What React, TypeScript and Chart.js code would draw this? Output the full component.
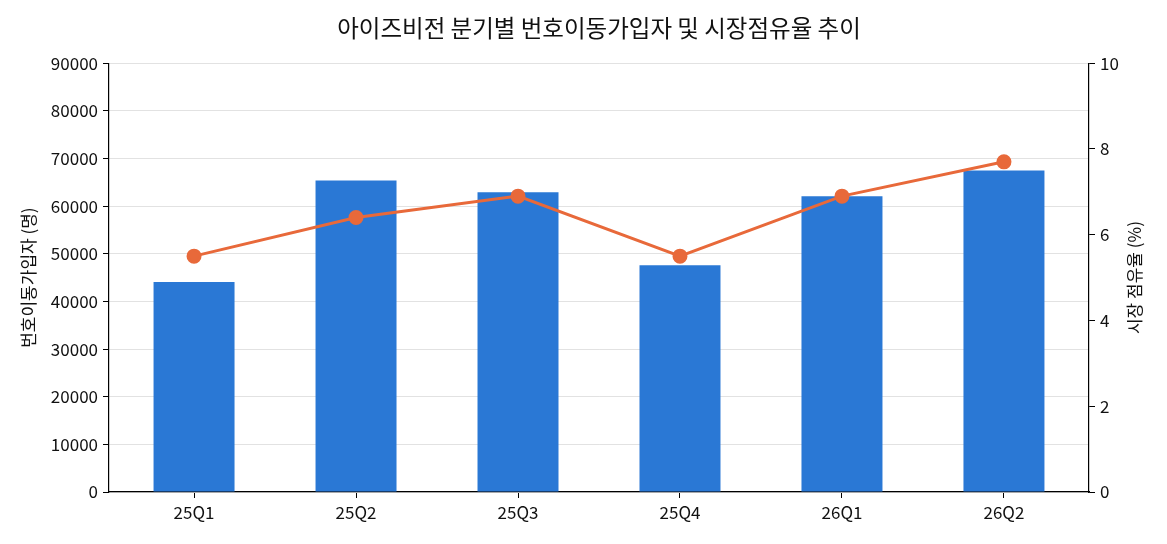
import React, { useEffect, useRef } from "react";
import { Chart, registerables } from "chart.js";

Chart.register(...registerables);

const quarters = ["25Q1", "25Q2", "25Q3", "25Q4", "26Q1", "26Q2"];
const subscribers = [44100, 65400, 62900, 47600, 62100, 67500];
const marketShare = [5.5, 6.4, 6.9, 5.5, 6.9, 7.7];

const FONT = "'Noto Sans CJK KR', 'Noto Sans', sans-serif";
const rightTitle = "시장 점유율 (%)";

// Draws the right-hand axis title reading bottom-to-top.
const rightTitlePlugin = {
  id: "rightTitle",
  afterDraw(chart: any) {
    const { ctx, chartArea } = chart;
    const cy = (chartArea.top + chartArea.bottom) / 2;
    ctx.save();
    ctx.translate(1135, cy);
    ctx.rotate(-Math.PI / 2);
    ctx.fillStyle = "#111";
    ctx.font = `17px ${FONT}`;
    ctx.textAlign = "center";
    ctx.textBaseline = "middle";
    ctx.fillText(rightTitle, 0, 0);
    ctx.restore();
  },
};

export default function App() {
  const canvasRef = useRef<HTMLCanvasElement | null>(null);

  useEffect(() => {
    const ctx = canvasRef.current;
    if (!ctx) return;
    const barPoints = subscribers.map((y, i) => ({ x: i, y }));
    const linePoints = marketShare.map((y, i) => ({ x: i, y }));
    const chart = new Chart(ctx, {
      type: "bar",
      data: {
        datasets: [
          {
            type: "line",
            label: rightTitle,
            data: linePoints,
            yAxisID: "y1",
            borderColor: "#e8693a",
            backgroundColor: "#e8693a",
            borderWidth: 3,
            pointRadius: 6,
            pointHoverRadius: 6,
            tension: 0,
            order: 0,
          },
          {
            type: "bar",
            label: "번호이동가입자 (명)",
            data: barPoints,
            yAxisID: "y",
            backgroundColor: "#2a78d5",
            barPercentage: 0.5,
            categoryPercentage: 1,
            order: 1,
          },
        ],
      },
      options: {
        responsive: false,
        animation: false,
        layout: { padding: { left: 0, right: 0, top: 4, bottom: 0 } },
        plugins: {
          legend: { display: false },
          tooltip: { enabled: false },
          title: {
            display: true,
            fullSize: false,
            text: "아이즈비전 분기별 번호이동가입자 및 시장점유율 추이",
            color: "#111",
            font: { family: FONT, size: 23.5, weight: "normal" },
            padding: { top: 10, bottom: 21 },
          },
        },
        scales: {
          x: {
            type: "linear",
            min: -0.525,
            max: quarters.length - 1 + 0.525,
            offset: false,
            afterFit: (s: any) => {
              s.height = 52;
            },
            afterBuildTicks: (s: any) => {
              s.ticks = quarters.map((_, i) => ({ value: i }));
            },
            grid: {
              offset: false,
              drawOnChartArea: false,
              drawTicks: true,
              tickLength: 6,
              tickColor: "#000",
            },
            border: { color: "#000", width: 1.2 },
            ticks: {
              color: "#111",
              font: { family: FONT, size: 17 },
              padding: 4,
              callback: (v: any) => quarters[Math.round(Number(v))] ?? "",
            },
          },
          y: {
            position: "left",
            min: 0,
            max: 90000,
            afterFit: (s: any) => {
              s.width = 109;
            },
            ticks: {
              stepSize: 10000,
              color: "#111",
              font: { family: FONT, size: 17 },
              padding: 5,
              callback: (v: any) => String(v),
            },
            grid: {
              color: "#e2e2e2",
              tickColor: "#000",
              tickLength: 6,
              lineWidth: 1,
            },
            border: { color: "#000", width: 1.2 },
            title: {
              display: true,
              text: "번호이동가입자 (명)",
              color: "#111",
              font: { family: FONT, size: 17 },
              padding: { top: 18, bottom: 0 },
            },
          },
          y1: {
            position: "right",
            min: 0,
            max: 10,
            afterFit: (s: any) => {
              s.width = 78;
            },
            ticks: {
              stepSize: 2,
              color: "#111",
              font: { family: FONT, size: 17 },
              padding: 5,
            },
            grid: {
              drawOnChartArea: false,
              tickColor: "#000",
              tickLength: 6,
            },
            border: { color: "#000", width: 1.2 },
            title: { display: false },
          },
        },
      },
      plugins: [rightTitlePlugin],
    });
    return () => chart.destroy();
  }, []);

  return (
    <div style={{ position: "absolute", left: 0, top: 0, width: 1167, height: 544, background: "#fff" }}>
      <canvas ref={canvasRef} width={1167} height={544} style={{ display: "block" }} />
    </div>
  );
}
